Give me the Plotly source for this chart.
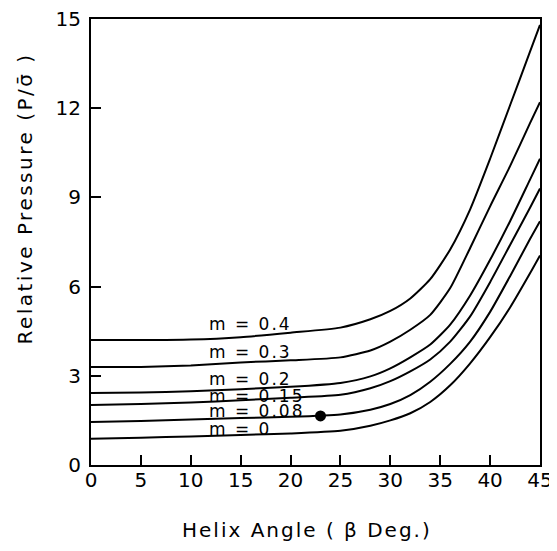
import plotly.graph_objects as go

# Helix angle (deg) grid and relative pressure read for each curve
x_grid = [0, 5, 10, 15, 20, 25, 28, 30, 32, 34, 36, 38, 40, 42, 44, 45]

m_labels = ["m = 0.4", "m = 0.3", "m = 0.2", "m = 0.15", "m = 0.08", "m = 0"]

y_m04 = [4.2, 4.2, 4.22, 4.3, 4.45, 4.62, 4.9, 5.18, 5.6, 6.25, 7.25, 8.6, 10.3, 12.1, 13.9, 14.8]
y_m03 = [3.3, 3.3, 3.35, 3.45, 3.52, 3.62, 3.85, 4.15, 4.55, 5.05, 5.95, 7.3, 8.7, 10.05, 11.5, 12.2]
y_m02 = [2.42, 2.44, 2.48, 2.55, 2.63, 2.76, 2.98, 3.25, 3.62, 4.05, 4.72, 5.7, 6.9, 8.2, 9.6, 10.3]
y_m015 = [2.02, 2.05, 2.1, 2.18, 2.26, 2.36, 2.58, 2.82, 3.15, 3.55, 4.15, 5.0, 6.15, 7.4, 8.65, 9.3]
y_m008 = [1.45, 1.48, 1.53, 1.58, 1.62, 1.7, 1.86, 2.05, 2.35, 2.8, 3.4, 4.15, 5.15, 6.35, 7.6, 8.2]
y_m0 = [0.88, 0.92, 0.96, 1.01, 1.06, 1.15, 1.32, 1.5, 1.74, 2.12, 2.68, 3.42, 4.3, 5.3, 6.45, 7.05]

curves_y = [y_m04, y_m03, y_m02, y_m015, y_m008, y_m0]

label_x = [11.6, 11.6, 11.6, 11.6, 11.6, 11.6]
label_y = [4.74, 3.8, 2.88, 2.32, 1.8, 1.2]

dot_x = [23]
dot_y = [1.65]

x_ticks = [0, 5, 10, 15, 20, 25, 30, 35, 40, 45]
y_ticks = [0, 3, 6, 9, 12, 15]

FONT = "DejaVu Sans"


def spaced(text, px):
    return '<span style="letter-spacing:%gpx">%s</span>' % (px, text)


fig = go.Figure()
for ys in curves_y:
    fig.add_trace(go.Scatter(x=x_grid, y=ys, mode="lines",
                             line=dict(color="black", width=2, shape="spline", smoothing=0.6),
                             showlegend=False, hoverinfo="skip"))

fig.add_trace(go.Scatter(x=dot_x, y=dot_y, mode="markers",
                         marker=dict(color="black", size=11), showlegend=False))

for t, lx, ly in zip(m_labels, label_x, label_y):
    fig.add_annotation(x=lx, y=ly, text=spaced(t, 2), showarrow=False,
                       xanchor="left", yanchor="middle",
                       font=dict(family=FONT, size=17, color="black"))

fig.add_annotation(xref="paper", yref="paper", x=0.481, y=-0.146,
                   text=spaced("Helix Angle ( β Deg.)", 2), showarrow=False,
                   xanchor="center", yanchor="middle",
                   font=dict(family=FONT, size=20, color="black"))
fig.add_annotation(xref="paper", yref="paper", x=-0.149, y=0.5975,
                   text=spaced("Relative Pressure (P/σ̄ )", 2.5), showarrow=False, textangle=-90,
                   xanchor="center", yanchor="middle",
                   font=dict(family=FONT, size=20, color="black"))

axis_common = dict(showgrid=False, zeroline=False, showline=True, mirror=True,
                   automargin=False, ticklabeloverflow="allow",
                   linecolor="black", linewidth=2, ticks="inside", ticklen=10,
                   tickwidth=2, tickcolor="black",
                   tickfont=dict(family=FONT, size=20, color="black"))

fig.update_xaxes(range=[0, 45], tickvals=x_ticks, ticklabelstandoff=-4, **axis_common)
fig.update_yaxes(range=[0, 15], tickvals=y_ticks, ticklabelstandoff=4, **axis_common)

fig.update_layout(template="none", width=549, height=543,
                  margin=dict(l=83, r=17, t=11, b=86),
                  paper_bgcolor="white", plot_bgcolor="white", showlegend=False)

fig.write_html("out.html")
